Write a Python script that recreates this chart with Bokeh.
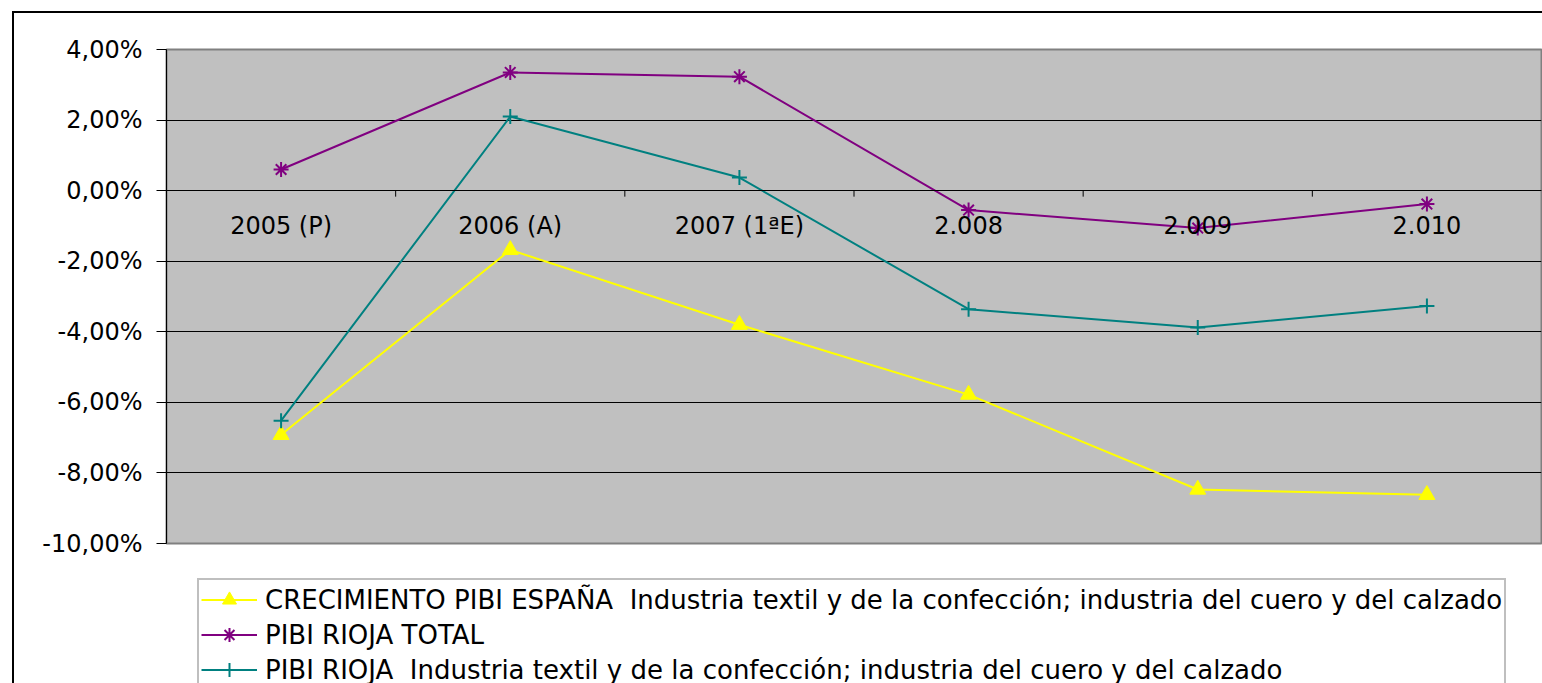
from bokeh.plotting import figure
from bokeh.layouts import column
from bokeh.models import (FixedTicker, Legend, LegendItem, ColumnDataSource, Range1d, FactorRange)
from bokeh.transform import dodge
from bokeh.embed import file_html
from bokeh.resources import INLINE

categories = ["2005 (P)", "2006 (A)", "2007 (1ªE)", "2.008", "2.009", "2.010"]
espana_textil = [-6.92, -1.68, -3.80, -5.78, -8.47, -8.62]
rioja_total = [0.60, 3.35, 3.23, -0.55, -1.06, -0.38]
rioja_textil = [-6.52, 2.10, 0.37, -3.36, -3.88, -3.27]
y_ticks = [-10, -8, -6, -4, -2, 0, 2, 4]
y_tick_labels = ["-10,00%", "-8,00%", "-6,00%", "-4,00%", "-2,00%", "0,00%", "2,00%", "4,00%"]

name_esp = "CRECIMIENTO PIBI ESPAÑA  Industria textil y de la confección; industria del cuero y del calzado"
name_tot = "PIBI RIOJA TOTAL"
name_tex = "PIBI RIOJA  Industria textil y de la confección; industria del cuero y del calzado"

FONT = "DejaVu Sans"
FS = "24px"
LFS = "26px"

YELLOW, PURPLE, TEAL = "#FFFF00", "#800080", "#008080"

p = figure(width=1528, height=565, x_range=FactorRange(*categories), y_range=Range1d(-10, 4),
           output_backend="svg", toolbar_location=None,
           min_border_left=152, min_border_right=1, min_border_top=36, min_border_bottom=35)
p.background_fill_color = "#C0C0C0"
p.border_fill_color = "white"
p.outline_line_color = "#808080"
p.outline_line_width = 2

# y axis
p.yaxis.ticker = FixedTicker(ticks=y_ticks)
p.yaxis.major_label_overrides = {t: l for t, l in zip(y_ticks, y_tick_labels)}
p.yaxis.major_label_text_font = FONT
p.yaxis.major_label_text_font_size = FS
p.yaxis.major_label_text_color = "black"
p.yaxis.axis_line_color = "black"
p.yaxis.axis_line_width = 1
p.yaxis.major_tick_line_color = "black"
p.yaxis.major_tick_out = 10
p.yaxis.major_tick_in = 0
p.yaxis.minor_tick_line_color = None
p.yaxis.major_label_standoff = 14

# x axis crossing at 0
p.xaxis.fixed_location = 0
p.xaxis.axis_line_color = "black"
p.xaxis.major_tick_line_color = None
p.xaxis.minor_tick_line_color = None
p.xaxis.major_label_text_font = FONT
p.xaxis.major_label_text_font_size = FS
p.xaxis.major_label_text_color = "black"
p.xaxis.major_label_standoff = 15

p.xgrid.grid_line_color = None
p.ygrid.grid_line_color = "black"
p.ygrid.grid_line_width = 1

# category boundary tick marks on the x axis
src = ColumnDataSource(dict(cat=categories, y0=[0] * len(categories), y1=[-0.17] * len(categories)))
p.segment(x0=dodge("cat", -0.5, range=p.x_range), y0="y0", x1=dodge("cat", -0.5, range=p.x_range), y1="y1",
          source=src, line_color="black", line_width=1)

p.line(categories, espana_textil, line_color=YELLOW, line_width=2)
p.scatter(categories, espana_textil, marker="triangle", size=16, fill_color=YELLOW, line_color=YELLOW)
p.line(categories, rioja_total, line_color=PURPLE, line_width=2)
p.scatter(categories, rioja_total, marker="asterisk", size=15, line_color=PURPLE, line_width=2)
p.line(categories, rioja_textil, line_color=TEAL, line_width=2)
p.scatter(categories, rioja_textil, marker="cross", size=15, line_color=TEAL, line_width=2)

# legend strip (second figure holding the legend); its sample glyphs sit outside its visible range
q = figure(width=1528, height=105, x_range=Range1d(0, 1), y_range=Range1d(0, 1),
           output_backend="svg", toolbar_location=None,
           min_border_left=0, min_border_right=0, min_border_top=0, min_border_bottom=0)
q.axis.visible = False
q.grid.grid_line_color = None
q.outline_line_color = None
q.background_fill_color = "white"
q.border_fill_color = "white"
off = [-10]
l1 = q.line(off, off, line_color=YELLOW, line_width=2)
s1 = q.scatter(off, off, marker="triangle", size=16, fill_color=YELLOW, line_color=YELLOW)
l2 = q.line(off, off, line_color=PURPLE, line_width=2)
s2 = q.scatter(off, off, marker="asterisk", size=15, line_color=PURPLE, line_width=2)
l3 = q.line(off, off, line_color=TEAL, line_width=2)
s3 = q.scatter(off, off, marker="cross", size=15, line_color=TEAL, line_width=2)

legend = Legend(items=[LegendItem(label=name_esp, renderers=[l1, s1]),
                       LegendItem(label=name_tot, renderers=[l2, s2]),
                       LegendItem(label=name_tex, renderers=[l3, s3])],
                location=(31, -8), orientation="vertical")
legend.label_text_font = FONT
legend.label_text_font_size = LFS
legend.label_text_color = "black"
legend.padding = 2
legend.spacing = 0
legend.margin = 0
legend.glyph_width = 56
legend.glyph_height = 35
legend.label_height = 35
legend.label_standoff = 8
legend.border_line_color = "#808080"
legend.border_line_width = 2
legend.background_fill_color = "white"
legend.background_fill_alpha = 1
q.add_layout(legend, "center")

layout = column(p, q, spacing=0)
layout.margin = (11, 0, 0, 12)
layout.styles = {"border-left": "2px solid black", "border-top": "2px solid black"}

open("out.html", "w").write(file_html(layout, INLINE))
